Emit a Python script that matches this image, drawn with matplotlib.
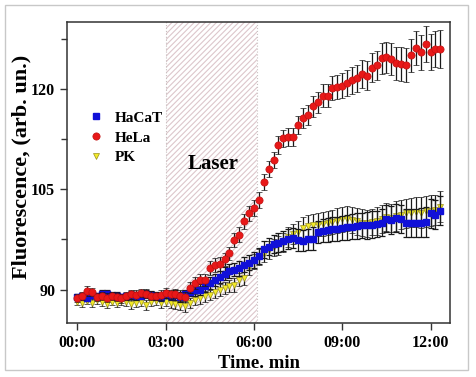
import matplotlib
matplotlib.use("Agg")
import matplotlib.pyplot as plt
from matplotlib.patches import Rectangle
from matplotlib.ticker import MultipleLocator
import numpy as np

plt.rcParams['font.family'] = ['Liberation Serif', 'DejaVu Serif']
plt.rcParams['font.weight'] = 'bold'
plt.rcParams['hatch.linewidth'] = 0.8

# time points every 10 s (in minutes)
time_min = np.arange(75) / 6.0

hela = [88.8, 89.0, 89.8, 89.6, 88.9, 89.1, 88.8, 89.0, 88.9, 88.7,
        89.0, 89.3, 89.2, 89.5, 89.4, 89.1, 89.0, 89.2, 89.5, 89.3,
        89.4, 89.1, 88.9, 90.3, 91.0, 91.5, 91.4, 93.2, 93.7, 93.8,
        94.5, 95.4, 97.4, 98.2, 100.2, 101.4, 102.2, 103.4, 106.1, 108.0,
        109.4, 111.6, 112.6, 112.8, 112.8, 114.6, 115.6, 116.1, 117.4, 118.0,
        119.0, 119.0, 120.1, 120.3, 120.5, 120.9, 121.3, 121.6, 122.2, 122.0,
        123.2, 123.5, 124.6, 124.7, 124.5, 123.8, 123.7, 123.6, 125.0, 126.1,
        125.5, 126.7, 125.5, 126.0, 126.0]
hela_err = [0.6, 0.6, 0.7, 0.6, 0.6, 0.6, 0.7, 0.6, 0.6, 0.7,
            0.6, 0.7, 0.7, 0.6, 0.7, 0.7, 0.6, 0.7, 0.8, 0.7,
            0.7, 0.8, 0.8, 0.8, 0.9, 0.9, 0.9, 1.0, 1.0, 1.0,
            1.0, 1.0, 1.1, 1.1, 1.1, 1.1, 1.2, 1.2, 1.2, 1.2,
            1.2, 1.3, 1.3, 1.3, 1.4, 1.4, 1.5, 1.5, 1.6, 1.6,
            1.7, 1.7, 1.8, 1.8, 1.9, 1.9, 2.0, 2.0, 2.1, 2.1,
            2.2, 2.2, 2.3, 2.3, 2.4, 2.4, 2.5, 2.5, 2.5, 2.6,
            2.6, 2.7, 2.7, 2.7, 2.8]

hacat = [88.9, 89.0, 88.8, 89.2, 89.0, 89.3, 89.4, 89.1, 89.0, 88.9,
         89.0, 89.2, 89.0, 89.1, 89.3, 89.2, 89.0, 88.9, 89.3, 89.1,
         89.2, 88.9, 89.3, 89.7, 89.9, 90.0, 90.5, 91.0, 91.4, 91.9,
         92.4, 92.8, 93.0, 93.2, 93.7, 94.0, 94.4, 95.0, 96.0, 96.4,
         96.8, 97.0, 97.2, 97.5, 97.7, 97.4, 97.3, 97.5, 97.6, 98.6,
         98.8, 98.9, 99.0, 99.1, 99.2, 99.3, 99.4, 99.5, 99.6, 99.6,
         99.7, 99.8, 100.0, 100.6, 100.4, 100.7, 100.5, 99.9, 99.9, 99.9,
         100.0, 100.1, 101.4, 101.2, 101.8]
hacat_err = [0.5, 0.5, 0.5, 0.5, 0.5, 0.6, 0.5, 0.5, 0.6, 0.5,
             0.5, 0.6, 0.6, 0.5, 0.6, 0.6, 0.6, 0.6, 0.6, 0.6,
             0.7, 0.7, 0.7, 0.7, 0.8, 0.8, 0.8, 0.9, 0.9, 0.9,
             1.0, 1.0, 1.0, 1.1, 1.1, 1.1, 1.2, 1.2, 1.3, 1.3,
             1.4, 1.4, 1.5, 1.5, 1.5, 1.6, 1.6, 1.6, 1.7, 1.7,
             1.7, 1.8, 1.8, 1.8, 1.8, 1.9, 1.9, 1.9, 1.9, 2.0,
             2.0, 2.0, 2.0, 2.0, 2.1, 2.1, 2.1, 2.1, 2.1, 2.1,
             2.2, 2.2, 2.2, 2.2, 2.2]

pk = [88.2, 88.0, 88.3, 88.0, 88.4, 88.1, 87.9, 88.2, 88.0, 88.3,
      88.1, 87.8, 88.0, 88.2, 87.7, 88.1, 88.3, 88.0, 88.2, 88.0,
      87.8, 87.7, 87.5, 88.0, 88.5, 88.7, 89.0, 89.2, 89.6, 89.9,
      90.2, 90.5, 90.7, 91.5, 91.7, 93.3, 94.2, 94.8, 95.3, 95.9,
      96.3, 96.6, 97.0, 97.8, 98.3, 98.6, 99.2, 99.5, 99.6, 99.7,
      99.8, 99.9, 100.1, 100.3, 100.5, 100.6, 100.4, 100.2, 100.0, 99.9,
      100.1, 100.3, 100.6, 100.8, 100.7, 101.0, 101.2, 101.4, 101.5, 101.6,
      101.5, 101.7, 101.8, 101.9, 102.4]
pk_err = [0.5, 0.6, 0.5, 0.6, 0.5, 0.6, 0.6, 0.5, 0.6, 0.6,
          0.6, 0.7, 0.6, 0.6, 0.7, 0.6, 0.6, 0.7, 0.6, 0.7,
          0.7, 0.7, 0.8, 0.8, 0.8, 0.8, 0.8, 0.8, 0.9, 0.9,
          0.9, 0.9, 1.0, 1.0, 1.0, 1.1, 1.1, 1.2, 1.2, 1.3,
          1.3, 1.4, 1.4, 1.5, 1.5, 1.6, 1.6, 1.7, 1.7, 1.7,
          1.8, 1.8, 1.8, 1.9, 1.9, 1.9, 2.0, 2.0, 2.0, 2.0,
          2.0, 2.1, 2.1, 2.1, 2.1, 2.2, 2.2, 2.2, 2.2, 2.2,
          2.3, 2.3, 2.3, 2.3, 2.3]

laser_on, laser_off = 3.0, 6.1
xticks = [0, 3, 6, 9, 12]
xticklabels = ['00:00', '03:00', '06:00', '09:00', '12:00']

fig = plt.figure(figsize=(4.76, 3.77), dpi=100)
ax = fig.add_axes([0.1408, 0.1432, 0.8046, 0.7984])

# laser exposure window
ax.axvspan(laser_on, laser_off, facecolor='white', edgecolor='#dcc6cb',
           hatch='//////', linewidth=0, zorder=0)
for xv in (laser_on, laser_off):
    ax.axvline(xv, color='#c8c0c0', lw=0.8, ls=':', zorder=0)

common = dict(ecolor='#1a1a1a', elinewidth=0.9, capsize=2.2, capthick=0.9,
              linestyle='none')
ax.errorbar(time_min, hacat, yerr=hacat_err, marker='s', ms=4.0, mfc='#1010d8',
            mec='#1010d8', label='HaCaT', zorder=3, **common)
ax.errorbar(time_min, hela, yerr=hela_err, marker='o', ms=5.2, mfc='#e81818',
            mec='#c01010', mew=0.5, label='HeLa', zorder=4, **common)
ax.errorbar(time_min, pk, yerr=pk_err, marker='v', ms=4.8, mfc='#f2ea28',
            mec='#9a9020', mew=0.5, label='PK', zorder=2, **common)

ax.set_xlim(-0.35, 12.66)
ax.set_ylim(85, 130)
ax.set_xticks(xticks)
ax.set_xticklabels(xticklabels)
ax.yaxis.set_major_locator(MultipleLocator(15))
ax.yaxis.set_minor_locator(MultipleLocator(7.5))
ax.tick_params(axis='both', which='major', direction='out', length=5,
               width=1.0, labelsize=11.5, color='#333333')
ax.tick_params(axis='y', which='minor', direction='out', length=4,
               width=1.0, color='#333333')
for sp in ax.spines.values():
    sp.set_linewidth(1.1)
    sp.set_color('#333333')

ax.set_xlabel('Time. min', fontsize=13.5, fontweight='bold', labelpad=3)
ax.set_ylabel('Fluorescence, (arb. un.)', fontsize=16, fontweight='bold')
ax.yaxis.set_label_coords(-0.092, 0.52)

ax.text(4.6, 108.8, 'Laser', fontsize=15, fontweight='bold', ha='center',
        va='center', zorder=5)

handles, labels = ax.get_legend_handles_labels()
handles = [h[0] for h in handles]
leg = ax.legend(handles, labels, loc='upper left', bbox_to_anchor=(0.02, 0.75),
                frameon=False, handletextpad=0.7, labelspacing=0.4,
                handlelength=1.0, prop={'size': 11, 'weight': 'bold'})

# outer light frame, clipping the bottom of the x label
fig.patches.append(Rectangle((0, 0), 1, 7 / 377, transform=fig.transFigure,
                             facecolor='white', edgecolor='none', zorder=5))
fig.patches.append(Rectangle((5 / 476, 7 / 377), 463 / 476, 365 / 377,
                             transform=fig.transFigure, fill=False,
                             edgecolor='#c8c8c8', lw=1.0, zorder=6))

fig.savefig('out.png', dpi=100)
